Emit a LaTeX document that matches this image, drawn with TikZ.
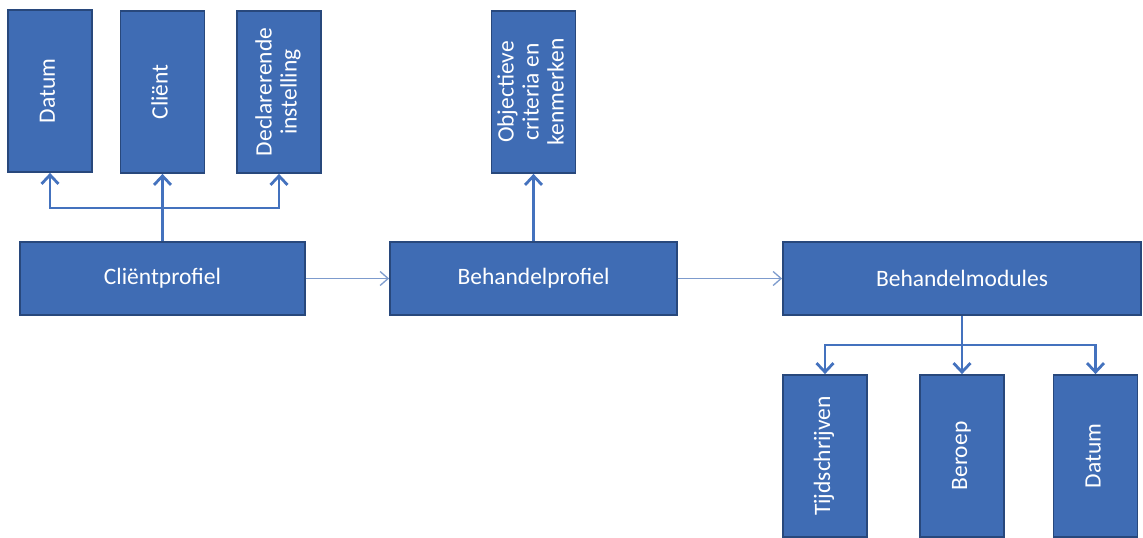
\documentclass[tikz,border=0pt]{standalone}
\usepackage{fontspec}
\setmainfont{Carlito}
\usetikzlibrary{arrows.meta}
\definecolor{boxblue}{RGB}{63,108,180}
\definecolor{boxedge}{RGB}{40,72,124}
\definecolor{linkblue}{RGB}{68,114,190}
\definecolor{thinblue}{RGB}{125,155,205}
\newcommand{\vtext}[1]{\rotatebox{90}{\begin{tabular}{@{}c@{}}#1\end{tabular}}}
\begin{document}
\begin{tikzpicture}
			[x=1pt,y=-1pt,
			box/.style={draw=boxedge,fill=boxblue,line width=1.8pt,text=white,
				font=\fontsize{23.5}{25}\selectfont,inner sep=0pt},
			wide/.style={box,minimum width=#1,minimum height=73pt},
			tall/.style={box,minimum width=84pt,minimum height=162pt},
			link/.style={draw=linkblue,line width=2.8pt,-{Straight Barb[length=9pt,width=17pt,line width=2.8pt]}},
			flow/.style={draw=thinblue,line width=1.3pt,-{Straight Barb[length=8pt,width=14pt]}}]
			\useasboundingbox (0,0) rectangle (1143,538);
			\node[tall] (datumtop) at (50,91) {\vtext{Datum}};
			\node[tall] (client) at (162.5,92) {\vtext{Cli\"ent}};
			\node[tall] (instelling) at (279,92) {\vtext{Declarerende\\instelling}};
			\node[tall] (criteria) at (533.5,92) {\vtext{Objectieve\\criteria en\\kenmerken}};
			\node[wide=285pt] (clientprofiel) at (162.5,278.5) {Cli\"entprofiel};
			\node[wide=287pt] (behandelprofiel) at (533.5,278.5) {Behandelprofiel};
			\node[wide=358pt] (modules) at (962,278.5) {Behandelmodules};
			\node[tall] (tijd) at (825,456) {\vtext{Tijdschrijven}};
			\node[tall] (beroep) at (962,456) {\vtext{Beroep}};
			\node[tall] (datumbottom) at (1095.5,456) {\vtext{Datum}};
			\coordinate (upbar) at (162.5,208);
			\coordinate (downbar) at (962,345);
			\draw[link] (clientprofiel.north) -- (client.south);
			\draw[link] (upbar) -| (datumtop.south);
			\draw[link] (upbar) -| (instelling.south);
			\draw[link] (behandelprofiel.north) -- (criteria.south);
			\draw[link] (modules.south) -- (beroep.north);
			\draw[link] (downbar) -| (tijd.north);
			\draw[link] (downbar) -| (datumbottom.north);
			\draw[flow] (clientprofiel) -- (behandelprofiel);
			\draw[flow] (behandelprofiel) -- (modules);
		\end{tikzpicture}
\end{document}
